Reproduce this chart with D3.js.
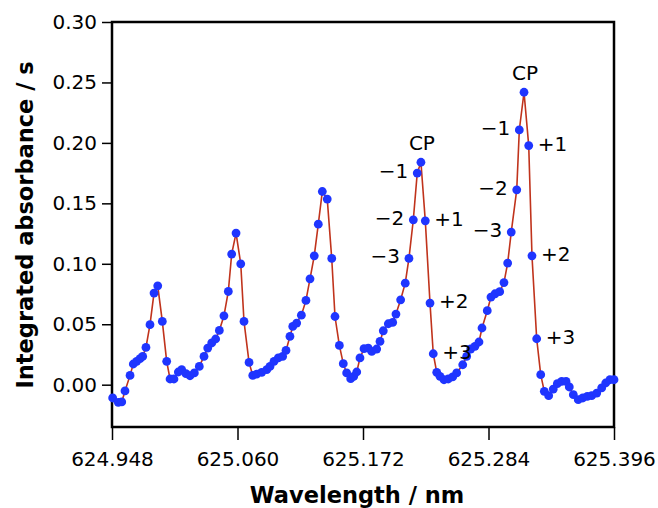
<!DOCTYPE html>
<html>
<head>
<meta charset="utf-8">
<script src="https://cdn.jsdelivr.net/npm/d3@7"></script>
<style>
  body { margin: 0; background: #fff; }
  .tick text { font-family: "DejaVu Sans", sans-serif; font-size: 20px; fill: #000; }
  .tick line { stroke: #000; stroke-width: 1.5px; }
  .title { font-family: "DejaVu Sans", sans-serif; font-weight: bold; font-size: 22.5px; }
  .ann { font-family: "DejaVu Sans", sans-serif; font-size: 20px; }
</style>
</head>
<body>
<div id="chart"></div>
<script>
var wavelengths = [
  624.9486, 624.9536, 624.9567, 624.9596, 624.9641, 624.9670, 624.9700, 624.9730, 624.9754, 624.9783,
  624.9819, 624.9855, 624.9888, 624.9929, 624.9968, 624.9998, 625.0033, 625.0072, 625.0102, 625.0140,
  625.0176, 625.0215, 625.0259, 625.0301, 625.0334, 625.0370, 625.0405, 625.0438, 625.0479, 625.0518,
  625.0548, 625.0587, 625.0629, 625.0658, 625.0703, 625.0736, 625.0771, 625.0816, 625.0861, 625.0890,
  625.0926, 625.0964, 625.1003, 625.1033, 625.1068, 625.1093, 625.1128, 625.1170, 625.1211, 625.1247,
  625.1285, 625.1321, 625.1357, 625.1401, 625.1441, 625.1470, 625.1509, 625.1544, 625.1574, 625.1610,
  625.1637, 625.1664, 625.1693, 625.1729, 625.1767, 625.1798, 625.1842, 625.1872, 625.1901, 625.1946,
  625.1985, 625.2014, 625.2056, 625.2097, 625.2130, 625.2169, 625.2204, 625.2237, 625.2276, 625.2318,
  625.2347, 625.2378, 625.2407, 625.2443, 625.2481, 625.2520, 625.2556, 625.2610, 625.2645, 625.2681,
  625.2719, 625.2755, 625.2782, 625.2829, 625.2862, 625.2898, 625.2940, 625.2978, 625.3011, 625.3043,
  625.3092, 625.3115, 625.3157, 625.3199, 625.3228, 625.3270, 625.3306, 625.3338, 625.3377, 625.3418,
  625.3454, 625.3493, 625.3532, 625.3561, 625.3597, 625.3641, 625.3681, 625.3722, 625.3761, 625.3806,
  625.3850, 625.3886, 625.3924, 625.3960
];

// integrated absorbance (s) for each wavelength
var absorbance = [
  -0.0110, -0.0146, -0.0143, -0.0052, 0.0077, 0.0171, 0.0193, 0.0215, 0.0234, 0.0308,
  0.0496, 0.0758, 0.0818, 0.0523, 0.0193, 0.0047, 0.0047, 0.0105, 0.0124, 0.0091,
  0.0074, 0.0097, 0.0151, 0.0234, 0.0303, 0.0345, 0.0378, 0.0449, 0.0570, 0.0771,
  0.1080, 0.1254, 0.1000, 0.0523, 0.0184, 0.0077, 0.0088, 0.0102, 0.0124, 0.0151,
  0.0193, 0.0221, 0.0234, 0.0283, 0.0399, 0.0482, 0.0510, 0.0575, 0.0697, 0.0876,
  0.1066, 0.1328, 0.1598, 0.1535, 0.1044, 0.0564, 0.0325, 0.0174, 0.0097, 0.0050,
  0.0068, 0.0105, 0.0221, 0.0298, 0.0303, 0.0275, 0.0295, 0.0358, 0.0446, 0.0504,
  0.0515, 0.0584, 0.0702, 0.0840, 0.1044, 0.1364, 0.1750, 0.1840, 0.1355, 0.0675,
  0.0256, 0.0102, 0.0069, 0.0041, 0.0047, 0.0064, 0.0097, 0.0165, 0.0234, 0.0295,
  0.0317, 0.0353, 0.0469, 0.0612, 0.0725, 0.0752, 0.0769, 0.0845, 0.1006, 0.1262,
  0.1612, 0.2107, 0.2419, 0.1978, 0.1066, 0.0380, 0.0083, -0.0055, -0.0091, -0.0036,
  0.0008, 0.0027, 0.0027, -0.0019, -0.0083, -0.0124, -0.0110, -0.0097, -0.0091, -0.0069,
  -0.0027, 0.0014, 0.0041, 0.0041
];

// axis ticks
var xTicks = [624.948, 625.060, 625.172, 625.284, 625.396];
var yTicks = [0.00, 0.05, 0.10, 0.15, 0.20, 0.25, 0.30];

// peak labels (centre peak and side pixels) and the point each one sits on
var annLabels = ["CP", "\u22121", "\u22122", "\u22123", "+1", "+2", "+3",
                 "CP", "\u22121", "\u22122", "\u22123", "+1", "+2", "+3"];
var annWavelengths = [625.2237, 625.2204, 625.2169, 625.2130, 625.2276, 625.2318, 625.2347,
                      625.3157, 625.3115, 625.3092, 625.3043, 625.3199, 625.3228, 625.3270];

var data = wavelengths.map(function(w, i) { return {w: w, a: absorbance[i]}; });

// set the dimensions and margins of the graph
var margin = {top: 22, right: 44, bottom: 81, left: 112};
const width = 658 - margin.left - margin.right;
const height = 508 - margin.top - margin.bottom;

const svg = d3.select("#chart")
  .append("svg")
    .attr("width", 658)
    .attr("height", 508)
  .append("g")
    .attr("transform", "translate(" + margin.left + "," + margin.top + ")");

var x = d3.scaleLinear().domain([624.948, 625.396]).range([0, width]);
var y = d3.scaleLinear().domain([-0.035, 0.30]).range([height, 0]);

// axes (ticks only, the frame is drawn as a box)
svg.append("g")
    .attr("transform", "translate(0," + height + ")")
    .call(d3.axisBottom(x).tickValues(xTicks).tickSize(13).tickPadding(12).tickFormat(d3.format(".3f")))
    .call(function(g) { g.select(".domain").remove(); });

svg.append("g")
    .call(d3.axisLeft(y).tickValues(yTicks).tickSize(10).tickPadding(5).tickFormat(d3.format(".2f")))
    .call(function(g) { g.select(".domain").remove(); });

svg.append("rect")
    .attr("width", width)
    .attr("height", height)
    .style("fill", "none")
    .style("stroke", "#000")
    .style("stroke-width", 2.5);

// the red trace
var line = d3.line()
    .x(function(d) { return x(d.w); })
    .y(function(d) { return y(d.a); });

svg.append("path")
    .datum(data)
    .attr("d", line)
    .style("fill", "none")
    .style("stroke", "#c0331c")
    .style("stroke-width", 1.6);

// blue markers
svg.append("g")
  .selectAll("circle")
  .data(data)
  .enter().append("circle")
    .attr("cx", function(d) { return x(d.w); })
    .attr("cy", function(d) { return y(d.a); })
    .attr("r", 4.4)
    .style("fill", "#1f35ff");

// peak labels
svg.append("g")
  .selectAll("text")
  .data(annLabels)
  .enter().append("text")
    .attr("class", "ann")
    .each(function(label, i) {
      var w = annWavelengths[i];
      var pt = data.find(function(d) { return Math.abs(d.w - w) < 1e-6; });
      var px = x(pt.w), py = y(pt.a);
      var t = d3.select(this).text(label);
      if (label === "CP") {
        t.attr("x", px + 1).attr("y", py - 12).attr("text-anchor", "middle");
      } else if (label.charAt(0) === "+") {
        t.attr("x", px + 9).attr("y", py + 5).attr("text-anchor", "start");
      } else {
        t.attr("x", px - 9).attr("y", py + 5).attr("text-anchor", "end");
      }
    });

// axis titles
svg.append("text")
    .attr("class", "title")
    .attr("x", width / 2 - 6)
    .attr("y", height + 76)
    .attr("text-anchor", "middle")
    .text("Wavelength / nm");

svg.append("text")
    .attr("class", "title")
    .attr("transform", "rotate(-90)")
    .attr("x", -(225 - margin.top))
    .attr("y", -79)
    .attr("text-anchor", "middle")
    .text("Integrated absorbance / s");
</script>
</body>
</html>
